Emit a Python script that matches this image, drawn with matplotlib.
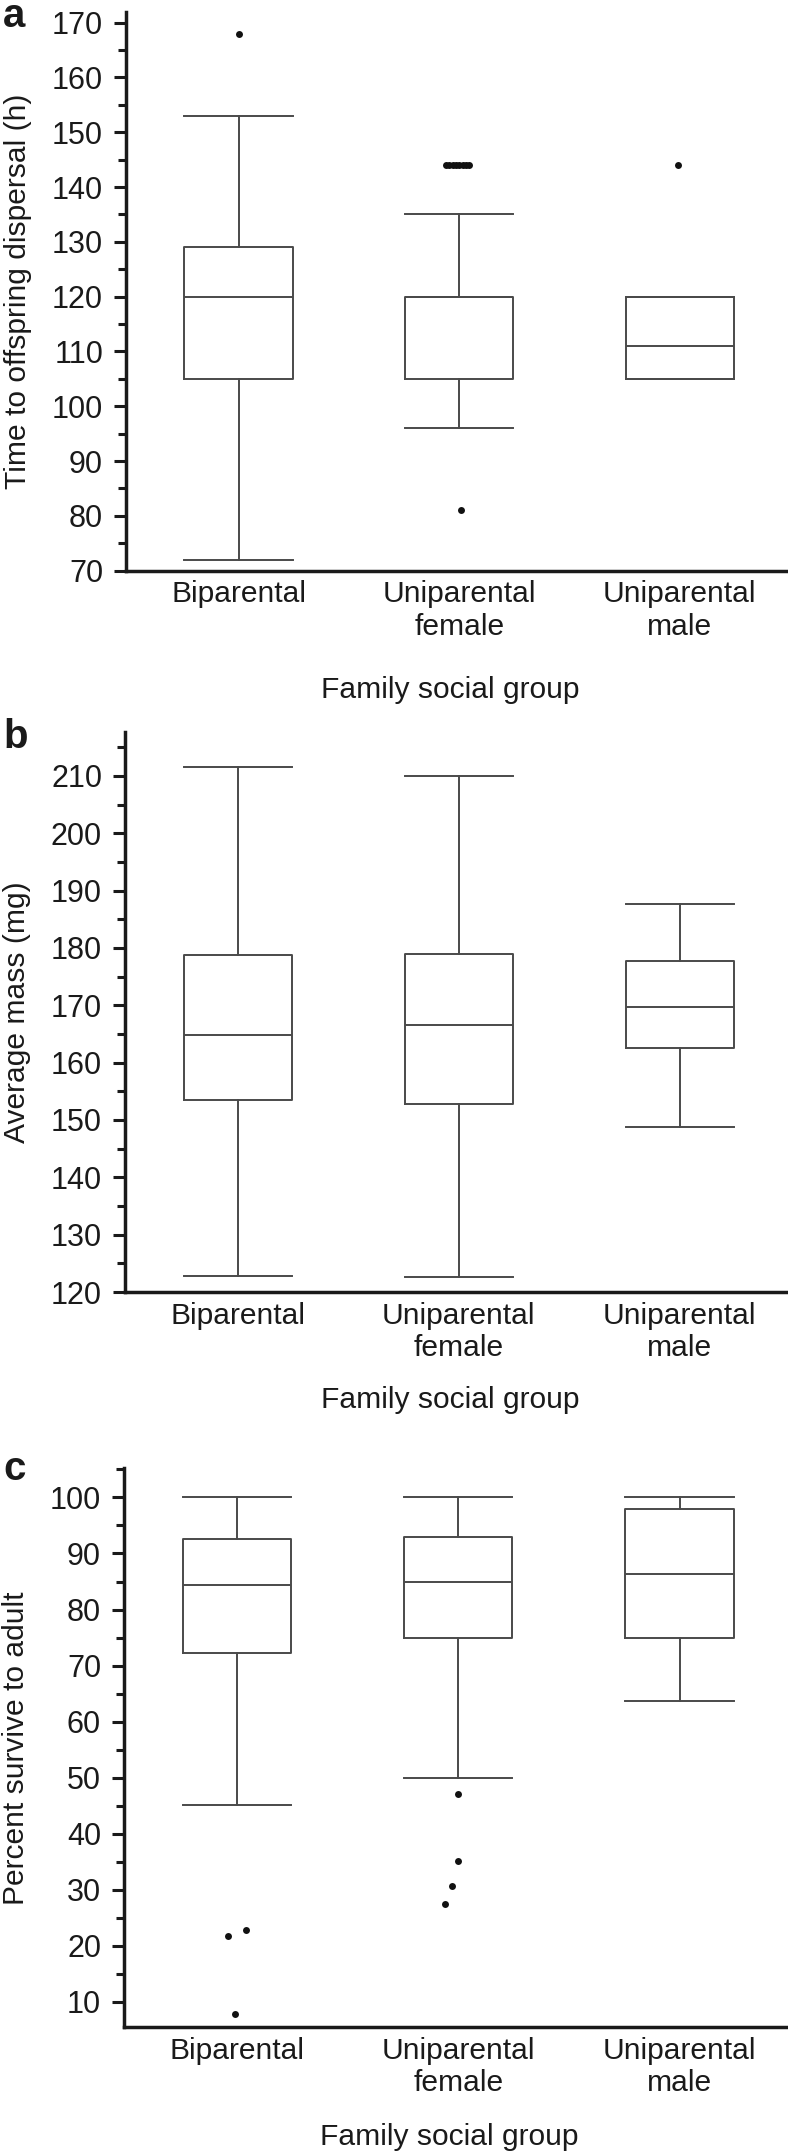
import numpy as np
import matplotlib.pyplot as plt
from matplotlib.ticker import MultipleLocator

plt.rcParams['font.family'] = ['Liberation Sans', 'DejaVu Sans']

groups = ['Biparental', 'Uniparental\nfemale', 'Uniparental\nmale']

# panel a - time to offspring dispersal (h)
a_whislo = [72, 96, 105]
a_q1 = [105, 105, 105]
a_med = [120, 120, 111]
a_q3 = [129, 120, 120]
a_whishi = [153, 135, 120]
a_out_grp = [1, 2, 2, 2, 2, 2, 2, 2, 2, 2, 3]
a_out_val = [168, 144, 144, 144, 144, 144, 144, 144, 144, 81, 144]
a_out_dx = [0.0, -0.06, -0.045, -0.03, -0.015, 0.0, 0.015, 0.03, 0.045, 0.01, -0.01]

# panel b - average mass (mg)
b_whislo = [122.8, 122.6, 148.8]
b_q1 = [153.5, 152.8, 162.6]
b_med = [164.9, 166.6, 169.7]
b_q3 = [178.8, 178.9, 177.7]
b_whishi = [211.6, 209.9, 187.6]
b_out_grp = []
b_out_val = []
b_out_dx = []

# panel c - percent survive to adult
c_whislo = [45.1, 50.0, 63.7]
c_q1 = [72.3, 75.0, 75.0]
c_med = [84.3, 84.9, 86.3]
c_q3 = [92.6, 92.9, 98.0]
c_whishi = [100, 100, 100]
c_out_grp = [1, 1, 1, 2, 2, 2, 2]
c_out_val = [21.7, 22.9, 7.8, 47.0, 35.2, 30.6, 27.4]
c_out_dx = [-0.04, 0.04, -0.01, 0.0, 0.0, -0.03, -0.06]

W, H = 788, 2154
fig = plt.figure(figsize=(W / 100, H / 100), dpi=100)

line_c = '#4a4a4a'
ink = '#1a1a1a'


def panel(rect, whislo, q1, med, q3, whishi, out_grp, out_val, out_dx,
          ylim, yticks, ylabel, xlab_y):
    ax = fig.add_axes(rect)
    stats = []
    for i in range(3):
        stats.append(dict(whislo=whislo[i], q1=q1[i], med=med[i], q3=q3[i],
                          whishi=whishi[i], fliers=[]))
    lp = dict(color=line_c, linewidth=1.4)
    ax.bxp(stats, positions=[1, 2, 3], widths=0.49, capwidths=0.49,
           showfliers=False, boxprops=lp, whiskerprops=lp, capprops=lp,
           medianprops=lp)
    xs = [g + d for g, d in zip(out_grp, out_dx)]
    ax.plot(xs, out_val, 'o', color='#111111', markersize=5,
            markeredgewidth=0, linestyle='none')

    ax.set_xlim(0.49, 3.49)
    ax.set_ylim(*ylim)
    ax.set_yticks(yticks)
    ax.yaxis.set_minor_locator(MultipleLocator(5))
    ax.set_xticks([1, 2, 3])
    ax.set_xticklabels(groups, fontsize=21.6, color=ink, linespacing=1.2)
    ax.tick_params(axis='x', length=0, pad=7)
    ax.tick_params(axis='y', which='major', length=8.5, width=2.2,
                   labelsize=22, colors=ink, pad=8)
    ax.tick_params(axis='y', which='minor', length=5.5, width=2.2, colors=ink)

    for s in ['top', 'right']:
        ax.spines[s].set_visible(False)
    for s in ['left', 'bottom']:
        ax.spines[s].set_linewidth(2.5)
        ax.spines[s].set_color(ink)

    ax.set_ylabel(ylabel, fontsize=21.6, color=ink)
    ax.yaxis.set_label_coords(-0.163, 0.5)
    ax.yaxis.label.set_va('center')
    ax.set_xlabel('Family social group', fontsize=21.6, color=ink)
    ax.xaxis.set_label_coords(0.49, xlab_y)
    ax.xaxis.label.set_va('center')
    return ax


def rect(left_px, top_px, bottom_px):
    return [left_px / W, 1 - bottom_px / H, 1 - left_px / W, (bottom_px - top_px) / H]


panel(rect(126, 11.7, 570.7), a_whislo, a_q1, a_med, a_q3, a_whishi,
      a_out_grp, a_out_val, a_out_dx, (70, 172), np.arange(70, 171, 10),
      'Time to offspring dispersal (h)', -0.2135)
panel(rect(125, 731.7, 1292), b_whislo, b_q1, b_med, b_q3, b_whishi,
      b_out_grp, b_out_val, b_out_dx, (120, 217.7), np.arange(120, 211, 10),
      'Average mass (mg)', -0.1928)
panel(rect(124, 1468.3, 2027.3), c_whislo, c_q1, c_med, c_q3, c_whishi,
      c_out_grp, c_out_val, c_out_dx, (5.45, 105.2), np.arange(10, 101, 10),
      'Percent survive to adult', -0.1957)

for lab, base in [('a', 27), ('b', 748), ('c', 1480)]:
    fig.text(3 / W, 1 - base / H, lab, fontsize=29, fontweight='bold',
             ha='left', va='baseline', color=ink)

fig.savefig('out.png', dpi=100)
